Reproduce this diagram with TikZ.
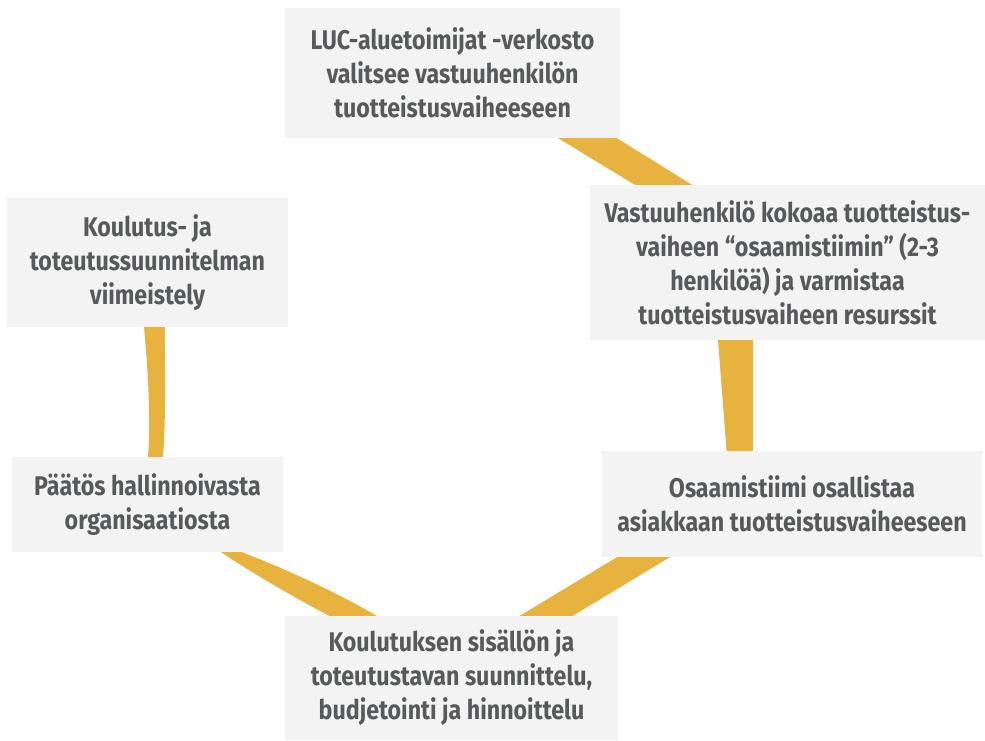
\documentclass[tikz,border=0pt]{standalone}
\usepackage{fontspec}
\setmainfont{Fira Sans}[FakeStretch=0.86]
\usetikzlibrary{calc}
\definecolor{bandcol}{HTML}{E8B23F}
\definecolor{boxfill}{HTML}{F2F3F2}
\definecolor{textgray}{HTML}{58595B}
\pgfdeclarelayer{bg}
\pgfsetlayers{bg,main}
\begin{document}
\begin{tikzpicture}[x=1pt,y=-1pt,
  box/.style={fill=boxfill, draw=none, text=textgray, align=center,
    inner sep=0pt, font=\bfseries\fontsize{27}{34}\selectfont},
  band/.style={fill=bandcol, draw=none}]
\useasboundingbox (0,0) rectangle (985,740);

% process steps
\node[box, minimum width=335, minimum height=130] (n1) at (452.5,73)
  {LUC-aluetoimijat -verkosto\\valitsee vastuuhenkilön\\tuotteistusvaiheeseen};
\node[box, minimum width=395, minimum height=155] (n2) at (787.5,262.5)
  {Vastuuhenkilö kokoaa tuotteistus-\\vaiheen “osaamistiimin” (2-3\\henkilöä) ja varmistaa\\tuotteistusvaiheen resurssit};
\node[box, minimum width=380, minimum height=106] (n3) at (792,504)
  {Osaamistiimi osallistaa\\asiakkaan tuotteistusvaiheeseen};
\node[box, minimum width=333, minimum height=124] (n4) at (451.5,678)
  {Koulutuksen sisällön ja\\toteutustavan suunnittelu,\\budjetointi ja hinnoittelu};
\node[box, minimum width=271, minimum height=95] (n5) at (147.5,504.5)
  {Päätös hallinnoivasta\\organisaatiosta};
\node[box, minimum width=281, minimum height=129] (n6) at (147.5,262.5)
  {Koulutus- ja\\toteutussuunnitelman\\viimeistely};

% brush-stroke bands between the steps
\begin{pgfonlayer}{bg}
\fill[band] ($(n1.south east)+(-67,-3)$) -- ($(n1.south east)+(-8,-3)$)
  -- ($(n2.north west)+(107,3)$) -- ($(n2.north west)+(50,3)$) -- cycle;
\fill[band] ($(n2.south west)+(128,-3)$) -- ($(n2.south west)+(163,-3)$)
  -- ($(n3.north west)+(151,3)$) -- ($(n3.north west)+(125,3)$) -- cycle;
\fill[band] ($(n3.south west)+(20,-3)$) -- ($(n3.south west)+(73,-3)$)
  -- ($(n4.north west)+(283,3)$) -- ($(n4.north west)+(230,3)$) -- cycle;
\fill[band] ($(n5.south west)+(205,-3)$) -- ($(n5.south west)+(223,-3)$)
  .. controls (275,565) and (330,588) .. ($(n4.north west)+(97,3)$)
  -- ($(n4.north west)+(50,3)$)
  .. controls (295,598) and (250,572) .. ($(n5.south west)+(205,-3)$) -- cycle;
\fill[band] ($(n6.south west)+(137,-3)$) -- ($(n6.south west)+(158,-3)$)
  .. controls (165,370) and (166,420) .. ($(n5.north west)+(151,3)$)
  -- ($(n5.north west)+(136,3)$)
  .. controls (151,420) and (148,370) .. ($(n6.south west)+(137,-3)$) -- cycle;
\end{pgfonlayer}
\end{tikzpicture}
\end{document}
